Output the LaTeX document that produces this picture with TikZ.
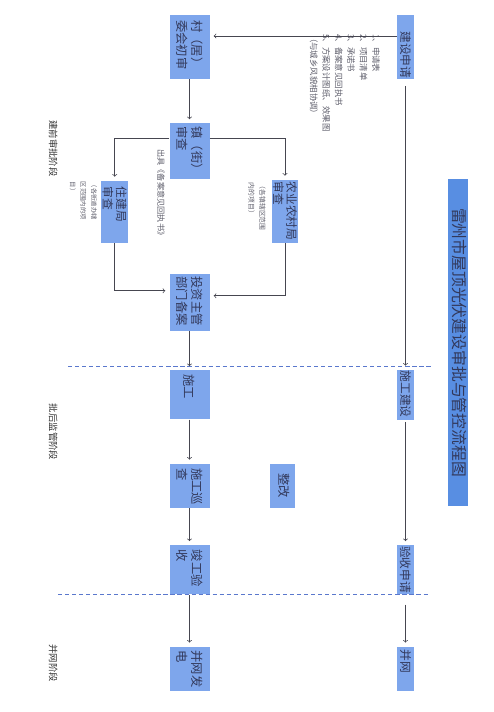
\documentclass[tikz,border=0pt]{standalone}
\usepackage{fontspec}
\usepackage{graphicx}
\newfontfamily\cjk{Noto Sans CJK SC}
\usepackage{tikz}
\usetikzlibrary{positioning}

\definecolor{boxblue}{RGB}{126,166,236}
\definecolor{titleblue}{RGB}{88,142,226}
\definecolor{boxtext}{RGB}{50,56,90}
\definecolor{notegray}{RGB}{95,95,108}
\definecolor{linegray}{RGB}{70,70,80}
\definecolor{phaseblue}{RGB}{90,120,205}

\newcommand{\vt}[2]{\rotatebox{-90}{\parbox{#1}{\raggedright #2}}}
\newcommand{\vn}[1]{\rotatebox{-90}{\begin{tabular}{@{}l@{}}#1\end{tabular}}}

\begin{document}
\begin{tikzpicture}[
    stage/.style={rectangle, fill=boxblue, text=boxtext, inner sep=0pt, minimum width=1.2cm, font=\cjk\fontsize{10.5}{13}\selectfont},
    slim/.style={stage, minimum width=0.51cm, font=\cjk\fontsize{10}{12}\selectfont},
    title/.style={rectangle, fill=titleblue, text=boxtext, inner sep=0pt, minimum width=0.6cm, minimum height=9.81cm, font=\cjk\fontsize{13.5}{15}\selectfont},
    note/.style={inner sep=0pt, text=notegray, font=\cjk\fontsize{7}{9}\selectfont},
    phase/.style={inner sep=0pt, text=black!80, font=\cjk\fontsize{8}{10}\selectfont},
    arrow/.style={->, draw=linegray, line width=0.6pt, shorten >=0.12cm},
    divider/.style={draw=phaseblue, line width=0.8pt, dash pattern=on 3.5pt off 2.5pt}
]
    \useasboundingbox (0,0) rectangle (14.82,-21.36);

    % approval column
    \node[stage, minimum height=1.92cm] (village) at (5.685,-1.41) {\vt{1.6cm}{村（居）\\委会初审}};
    \node[slim, minimum height=1.92cm, right=5.61cm of village] (apply) {\vt{1.88cm}{\hfill 建设申请}};
    \node[stage, minimum height=1.68cm, below=1.32cm of village] (town) {\vt{1.5cm}{镇（街）\\审查}};
    \node[stage, minimum width=0.8cm, minimum height=1.86cm, font=\cjk\fontsize{10}{11.5}\selectfont, below left=0.03cm and 1.23cm of town] (housing) {\vt{1.5cm}{住建局\\审查}};
    \node[stage, minimum width=0.78cm, minimum height=1.89cm, font=\cjk\fontsize{10}{11.5}\selectfont, below right=0cm and 1.86cm of town] (agri) {\vt{1.78cm}{农业农村局\\审查}};
    \node[stage, minimum height=1.71cm, below=2.82cm of town] (invest) {\vt{1.55cm}{投资主管\\部门备案}};

    % supervision column
    \node[stage, minimum height=1.47cm, below=1.17cm of invest] (build) {\vt{1.25cm}{施工}};
    \node[stage, minimum height=1.32cm, below=1.32cm of build] (patrol) {\vt{1.05cm}{施工巡\\查}};
    \node[stage, minimum width=0.75cm, minimum height=1.32cm, right=1.8cm of patrol] (fix) {\vn{整改}};
    \node[stage, minimum height=1.47cm, below=1.11cm of patrol] (accept) {\vt{1.2cm}{竣工验\\收}};
    \node[stage, minimum height=1.32cm, below=1.56cm of accept] (grid) {\vt{1.1cm}{并网发\\电}};

    % applicant column
    \node[slim, minimum height=1.5cm] (build2) at (apply |- build) {\vt{1.46cm}{施工建设}};
    \node[slim, minimum height=1.47cm] (check) at (apply |- accept) {\vt{1.43cm}{验收申请}};
    \node[slim, minimum height=1.32cm] (grid2) at (apply |- grid) {\vt{1.15cm}{并网}};

    \node[title] (heading) at (13.74,-10.275) {\vn{雷州市屋顶光伏建设审批与管控流程图}};

    % notes
    \node[note, font=\cjk\fontsize{7.2}{10.6}\selectfont, below left=0.57cm and 0.45cm of apply.north west] (docs)
        {\vn{1、申请表\\2、项目清单\\3、承诺书\\4、备案意见回执书\\5、方案设计图纸、效果图\\（与城乡风貌相协调）}};
    \node[note, anchor=north] (receipt) at (4.8,-4.47) {\vn{出具《备案意见回执书》}};
    \node[note, font=\cjk\fontsize{5.8}{9.4}\selectfont, below left=0.09cm and 0.12cm of agri.north west] (agrinote) {\vn{（各镇辖区范围\\内的项目）}};
    \node[note, font=\cjk\fontsize{5.4}{9}\selectfont, below left=0.03cm and 0.06cm of housing.north west] (housingnote) {\vn{（各街道办辖\\区范围内的项\\目）}};

    % phases
    \node[phase] (phase1) at (1.56,-4.455) {\vn{建前审批阶段}};
    \node[phase] (phase2) at (1.56,-12.96) {\vn{批后监管阶段}};
    \node[phase] (phase3) at (1.56,-19.89) {\vn{并网阶段}};
    \draw[divider] (2.04,-10.98) -- (12.99,-10.98);
    \draw[divider] (1.74,-17.82) -- (12.84,-17.82);

    % arrows
    \coordinate (feed) at ([yshift=0.33cm]apply.west);
    \draw[arrow] (feed) -- (feed -| village.east);
    \draw[arrow] (village) -- (town);
    \draw[arrow] ([yshift=0.39cm]town.west) -| (housing);
    \draw[arrow] ([yshift=0.39cm]town.east) -| (agri);
    \draw[arrow] (housing) |- ([yshift=0.35cm]invest.west);
    \draw[arrow] (agri) |- ([yshift=0.2cm]invest.east);
    \draw[arrow] (invest) -- (build);
    \draw[arrow] (build) -- (patrol);
    \draw[arrow] (patrol) -- (accept);
    \draw[arrow] (accept) -- (grid);
    \draw[arrow, shorten <=0.2cm] (apply) -- (build2);
    \draw[arrow, shorten <=0.05cm] (build2) -- (check);
    \draw[arrow, shorten <=0.3cm] (check) -- (grid2);
\end{tikzpicture}
\end{document}
